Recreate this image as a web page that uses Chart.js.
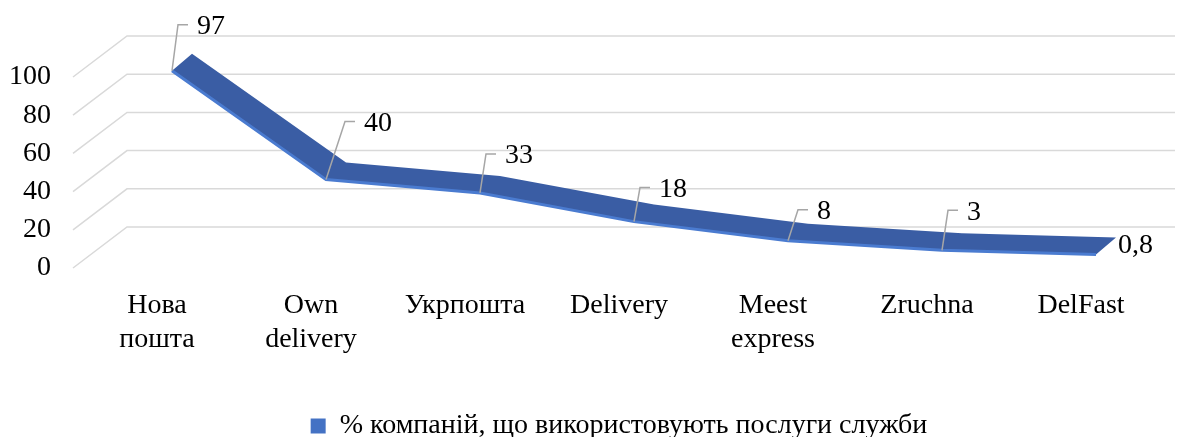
<!DOCTYPE html>
<html>
<head>
<meta charset="utf-8">
<script src="https://cdn.jsdelivr.net/npm/chart.js@4/dist/chart.umd.min.js"></script>
<style>
    html, body { margin: 0; padding: 0; background: #fff; }
    #wrap { width: 1203px; height: 437px; }
</style>
</head>
<body>
<div id="wrap"><canvas id="deliveryChart"></canvas></div>
<script>
// Data
const categories = [['Нова', 'пошта'], ['Own', 'delivery'], 'Укрпошта', 'Delivery', ['Meest', 'express'], 'Zruchna', 'DelFast'];
const usageValues = [97, 40, 33, 18, 8, 3, 0.8];
const yTicks = [0, 20, 40, 60, 80, 100];
const seriesName = '% компаній, що використовують послуги служби';

// Pseudo-3D look
const FONT = "'Liberation Serif', 'Times New Roman', serif";
const depth = { x: 15, y: -12 };       // ribbon sits behind the front plane
const ribbon = { x: 20, y: -17 };      // ribbon thickness in depth
const wall = { x: 54, y: -41 };        // floor/back wall offset
// where each label's leader line ends, relative to its point
const leaderEnds = [[6, -46], [19, -58], [6, -39], [6, -34], [10, -31], [6, -40], null];

const pseudo3d = {
    id: 'pseudo3d',
    beforeDatasetsDraw(chart) {
        const ctx = chart.ctx;
        const area = chart.chartArea;
        const y = chart.scales.y;

        // gridlines: diagonal floor edge then the back wall
        ctx.save();
        ctx.strokeStyle = '#d9d9d9';
        ctx.lineWidth = 1.5;
        yTicks.forEach(v => {
            const py = y.getPixelForValue(v);
            ctx.beginPath();
            ctx.moveTo(area.left - 7, py);
            ctx.lineTo(area.left - 7 + wall.x, py + wall.y);
            ctx.lineTo(area.right + 17, py + wall.y);
            ctx.stroke();
        });
        ctx.restore();

        // ribbon top face
        const pts = chart.getDatasetMeta(0).data;
        ctx.save();
        ctx.translate(depth.x, depth.y);
        ctx.fillStyle = '#3a5da4';
        ctx.beginPath();
        pts.forEach((p, i) => i ? ctx.lineTo(p.x, p.y) : ctx.moveTo(p.x, p.y));
        for (let i = pts.length - 1; i >= 0; i--) {
            ctx.lineTo(pts[i].x + ribbon.x, pts[i].y + ribbon.y);
        }
        ctx.closePath();
        ctx.fill();
        ctx.restore();

        ctx.save();
        ctx.translate(depth.x, depth.y);
    },
    afterDatasetsDraw(chart) {
        const ctx = chart.ctx;
        const pts = chart.getDatasetMeta(0).data;

        // data labels with leader lines
        ctx.font = '28px ' + FONT;
        ctx.fillStyle = '#000';
        ctx.textBaseline = 'middle';
        ctx.textAlign = 'left';
        ctx.strokeStyle = '#a6a6a6';
        ctx.lineWidth = 1.5;
        pts.forEach((p, i) => {
            const text = String(usageValues[i]).replace('.', ',');
            const end = leaderEnds[i];
            if (!end) {
                ctx.fillText(text, p.x + 22, p.y - 9);
                return;
            }
            const tx = p.x + end[0];
            const ty = p.y + end[1];
            ctx.beginPath();
            ctx.moveTo(p.x, p.y);
            ctx.lineTo(tx, ty);
            ctx.lineTo(tx + 10, ty);
            ctx.stroke();
            ctx.fillText(text, tx + 19, ty + 2);
        });
        ctx.restore();
    }
};

new Chart(document.getElementById('deliveryChart'), {
    type: 'line',
    data: {
        labels: categories,
        datasets: [{
            label: seriesName,
            data: usageValues,
            borderColor: '#4a7bd0',
            backgroundColor: '#4472c4',
            borderWidth: 3,
            pointRadius: 0,
            tension: 0,
            clip: false
        }]
    },
    options: {
        responsive: true,
        maintainAspectRatio: false,
        animation: false,
        layout: {
            padding: { top: 77, right: 45, left: 0, bottom: -13 }
        },
        plugins: {
            legend: {
                position: 'bottom',
                fullSize: false,
                labels: {
                    boxWidth: 15,
                    boxHeight: 15,
                    padding: 2,
                    color: '#000',
                    font: { family: FONT, size: 28 },
                    generateLabels: (chart) => [{
                        text: seriesName,
                        fillStyle: '#4472c4',
                        strokeStyle: '#4472c4',
                        lineWidth: 0,
                        datasetIndex: 0
                    }]
                }
            },
            tooltip: { enabled: false }
        },
        scales: {
            x: {
                offset: true,
                grid: { display: false, drawTicks: false },
                border: { display: false },
                ticks: {
                    padding: 21,
                    maxRotation: 0,
                    autoSkip: false,
                    color: '#000',
                    font: { family: FONT, size: 28 }
                },
                afterFit: (scale) => { scale.height = 142; }
            },
            y: {
                min: 0,
                max: 100,
                grid: { display: false, drawTicks: false },
                border: { display: false },
                afterBuildTicks: (scale) => { scale.ticks = yTicks.map(v => ({ value: v })); },
                ticks: {
                    padding: 29,
                    color: '#000',
                    font: { family: FONT, size: 28 }
                },
                afterFit: (scale) => { scale.width = 80; }
            }
        }
    },
    plugins: [pseudo3d]
});
</script>
</body>
</html>
